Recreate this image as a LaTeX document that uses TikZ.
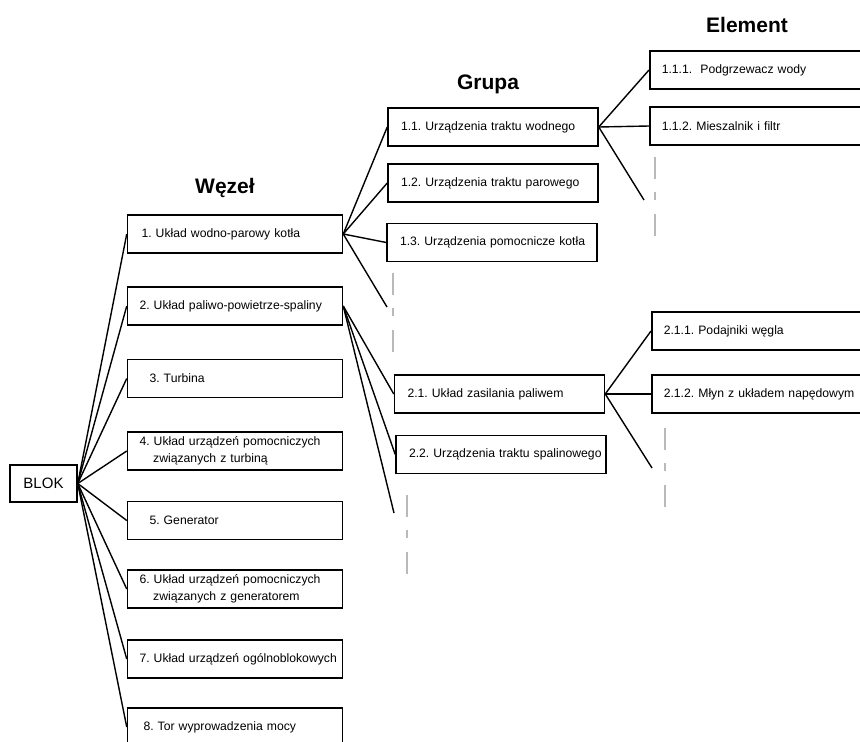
\documentclass[tikz,border=0pt]{standalone}
\usepackage{fontspec}
\setmainfont{Liberation Sans}
\begin{document}
\begin{tikzpicture}[
  x=1pt, y=-1pt,
  box/.style = {draw, line width=1.5pt, inner xsep=0pt, inner ysep=0pt,
    align=left, minimum height=38pt, font=\fontsize{12.2}{17}\selectfont\frenchspacing},
  blok/.style = {draw, line width=1.5pt, minimum width=67pt, minimum height=37pt,
    font=\fontsize{15}{18}\selectfont},
  wezel/.style = {box, text width=215pt, execute at begin node={\hspace*{12pt}}},
  grupa/.style = {box, text width=210pt, execute at begin node={\hspace*{13pt}}},
  element/.style = {box, anchor=west, text width=230pt, execute at begin node={\hspace*{12pt}}},
  title/.style = {anchor=base, font=\bfseries\fontsize{21}{25}\selectfont},
  link/.style = {line width=1.4pt},
  gap/.style = {gray!55, line width=1.1pt, dash pattern=on 22pt off 13pt on 8pt off 14pt}
  ]
  \useasboundingbox (0,0) rectangle (860,742);

  \node[title] (twezel) at (225,193) {Węzeł};
  \node[title] (tgrupa) at (488,89) {Grupa};
  \node[title] (telement) at (747,32) {Element};

  \node[blok] (blok) at (43.5,483.5) {BLOK};

  \node[wezel] (w1) at (235,234) {\hspace*{2pt}1. Układ wodno-parowy kotła};
  \node[wezel] (w2) at (235,306) {2. Układ paliwo-powietrze-spaliny};
  \node[wezel] (w3) at (235,378.5) {\hspace*{10pt}3. Turbina};
  \node[wezel] (w4) at (235,451) {4. Układ urządzeń pomocniczych\\\hspace*{25.7pt}związanych z turbiną};
  \node[wezel] (w5) at (235,520.5) {\hspace*{10pt}5. Generator};
  \node[wezel] (w6) at (235,589) {6. Układ urządzeń pomocniczych\\\hspace*{25.7pt}związanych z generatorem};
  \node[wezel] (w7) at (235,659) {7. Układ urządzeń ogólnoblokowych};
  \node[wezel] (w8) at (235,727) {\hspace*{4pt}8. Tor wyprowadzenia mocy};

  \node[grupa] (g11) at (493,127) {1.1. Urządzenia traktu wodnego};
  \node[grupa] (g12) at (493,183) {1.2. Urządzenia traktu parowego};
  \node[grupa] (g13) at (492,242.5) {1.3. Urządzenia pomocnicze kotła};
  \node[grupa] (g21) at (499.5,394) {2.1. Układ zasilania paliwem};
  \node[grupa] (g22) at (501,454.5) {2.2. Urządzenia traktu spalinowego};

  \node[element] (e111) at (649,70) {1.1.1.~~Podgrzewacz wody};
  \node[element] (e112) at (649,126) {1.1.2. Mieszalnik i filtr};
  \node[element] (e211) at (651,331) {2.1.1. Podajniki węgla};
  \node[element] (e212) at (651,394) {2.1.2. Młyn z układem napędowym};

  \coordinate (f1) at (387,307);
  \coordinate (f11) at (644,200);
  \coordinate (f2) at (394,513);
  \coordinate (f21) at (652,468);

  \foreach \n in {1,...,8}
    \draw[link] (blok.east) -- (w\n.west);

  \draw[link] (w1.east) -- (g11.west);
  \draw[link] (w1.east) -- (g12.west);
  \draw[link] (w1.east) -- (g13.west);
  \draw[link] (w1.east) -- (f1);
  \draw[link] (w2.east) -- (g21.west);
  \draw[link] (w2.east) -- (g22.west);
  \draw[link] (w2.east) -- (f2);
  \draw[link] (g11.east) -- (e111.west);
  \draw[link] (g11.east) -- (e112.west);
  \draw[link] (g11.east) -- (f11);
  \draw[link] (g21.east) -- (e211.west);
  \draw[link] (g21.east) -- (e212.west);
  \draw[link] (g21.east) -- (f21);

  \coordinate (d1a) at (393,273);
  \coordinate (d1b) at (393,352);
  \coordinate (d11a) at (655,157);
  \coordinate (d11b) at (655,236);
  \coordinate (d2a) at (407,495);
  \coordinate (d2b) at (407,574);
  \coordinate (d21a) at (665,428);
  \coordinate (d21b) at (665,507);
  \draw[gap] (d1a) -- (d1b);
  \draw[gap] (d11a) -- (d11b);
  \draw[gap] (d2a) -- (d2b);
  \draw[gap] (d21a) -- (d21b);
\end{tikzpicture}
\end{document}
